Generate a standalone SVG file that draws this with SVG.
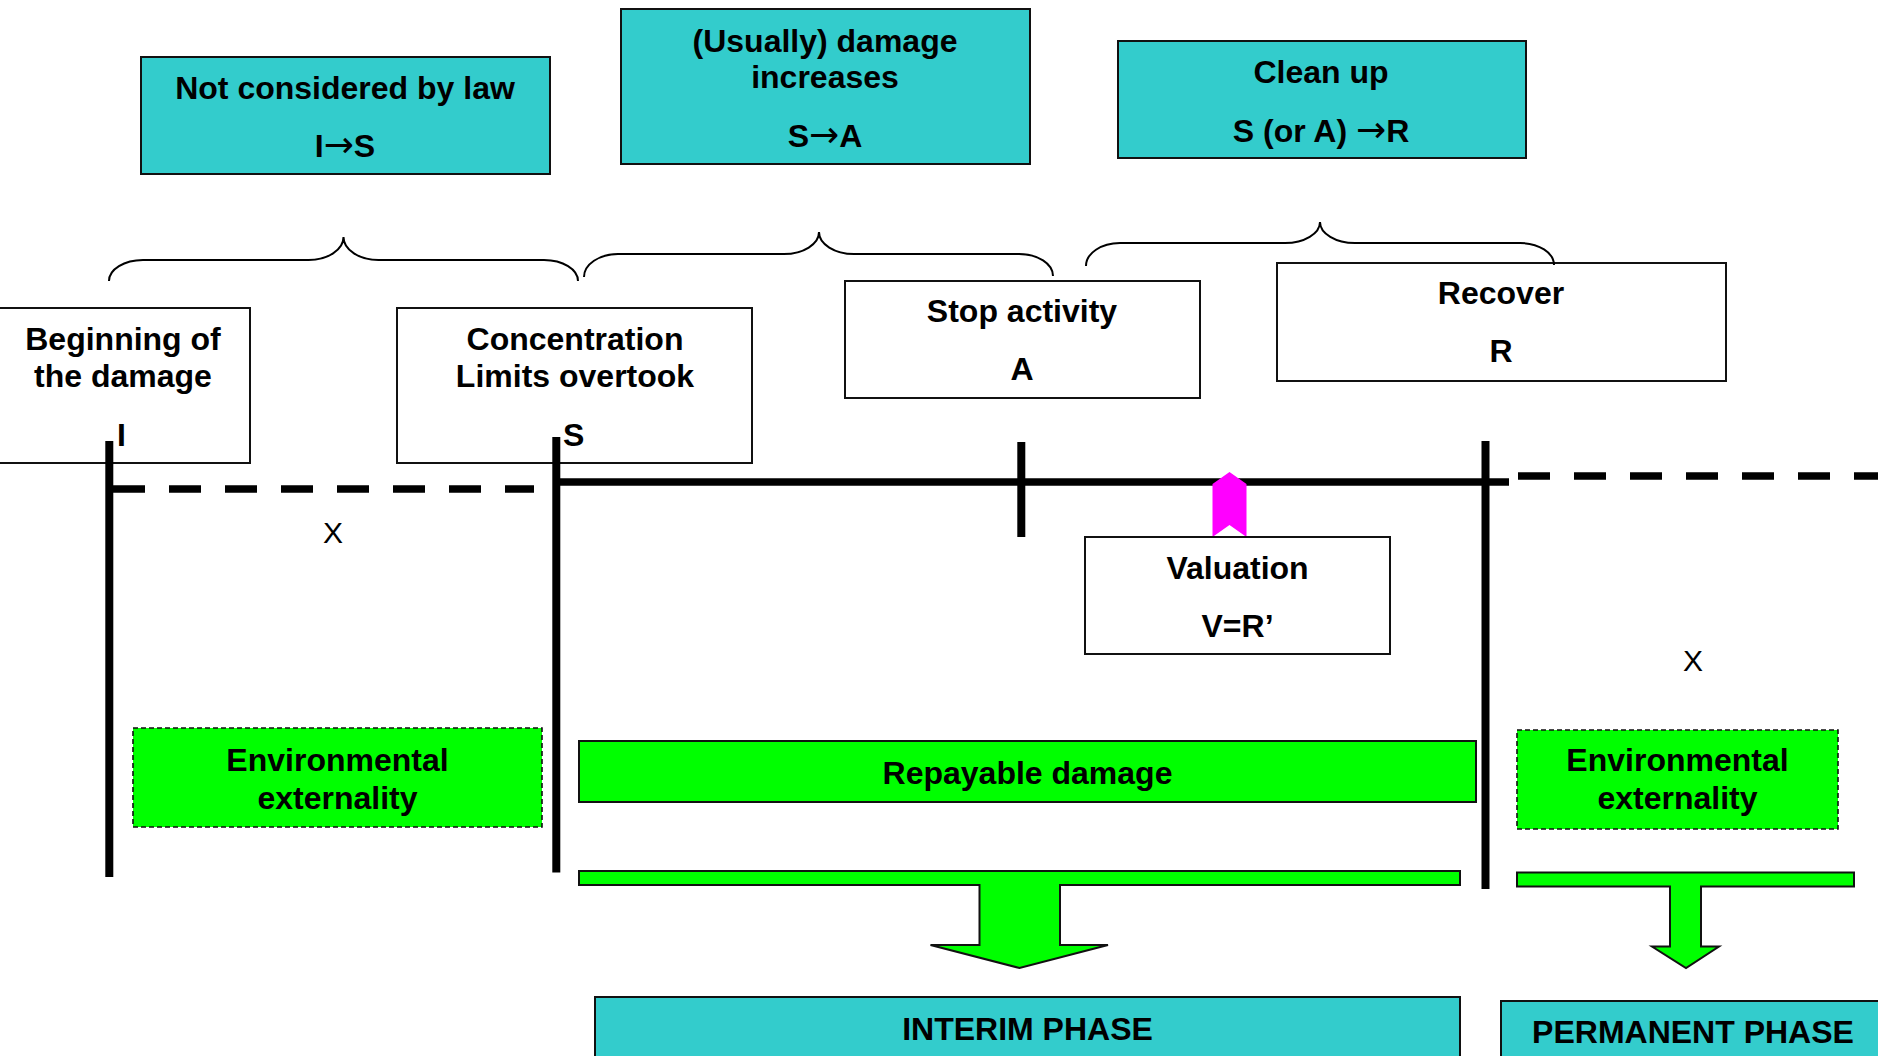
<svg xmlns="http://www.w3.org/2000/svg" width="1878" height="1056" viewBox="0 0 1878 1056">
<style>
.t{font-family:"Liberation Sans",Arial,sans-serif;font-weight:bold;font-size:32px;fill:#000;text-anchor:middle}
.ar{font-family:"DejaVu Sans",sans-serif;font-weight:normal;font-size:36px}
.x{font-family:"Liberation Sans",Arial,sans-serif;font-size:30px;fill:#000;text-anchor:middle}
.lbl{font-family:"Liberation Sans",Arial,sans-serif;font-weight:bold;font-size:32px;fill:#000}
.cyan{fill:#33CCCC;stroke:#111;stroke-width:2}
.white{fill:#fff;stroke:#111;stroke-width:2}
.green{fill:#00FF00;stroke:#111;stroke-width:2}
.gdash{fill:#00FF00;stroke:#111;stroke-width:1.6;stroke-dasharray:5 3}
.brace{fill:none;stroke:#000;stroke-width:2}
.vline{stroke:#000;stroke-width:8;fill:none}
.solid{stroke:#000;stroke-width:7.5;fill:none}
.dash{stroke:#000;stroke-width:7.5;fill:none;stroke-dasharray:32 24}
</style>
<rect width="1878" height="1056" fill="#fff"/>

<g id="box-not-considered">
<rect class="cyan" x="141" y="57" width="409" height="117"/>
<text class="t" x="345" y="99">Not considered by law</text>
<text class="t" x="345" y="157">I<tspan class="ar">→</tspan>S</text>
</g>
<g id="box-damage-increases">
<rect class="cyan" x="621" y="9" width="409" height="155"/>
<text class="t" x="825" y="52">(Usually) damage</text>
<text class="t" x="825" y="88">increases</text>
<text class="t" x="825" y="147">S<tspan class="ar">→</tspan>A</text>
</g>
<g id="box-clean-up">
<rect class="cyan" x="1118" y="41" width="408" height="117"/>
<text class="t" x="1321" y="83">Clean up</text>
<text class="t" x="1321" y="142">S (or A) <tspan class="ar">→</tspan>R</text>
</g>

<g id="box-beginning">
<rect class="white" x="-2" y="308" width="252" height="155"/>
<text class="t" x="123" y="350">Beginning of</text>
<text class="t" x="123" y="387">the damage</text>
</g>
<g id="box-concentration">
<rect class="white" x="397" y="308" width="355" height="155"/>
<text class="t" x="575" y="350">Concentration</text>
<text class="t" x="575" y="387">Limits overtook</text>
</g>
<g id="box-stop">
<rect class="white" x="845" y="281" width="355" height="117"/>
<text class="t" x="1022" y="322">Stop activity</text>
<text class="t" x="1022" y="380">A</text>
</g>
<g id="box-recover">
<rect class="white" x="1277" y="263" width="449" height="118"/>
<text class="t" x="1501" y="304">Recover</text>
<text class="t" x="1501" y="362">R</text>
</g>

<g id="braces">
<path class="brace" d="M109,281 A34,21 0 0 1 143,260 H308 A35,23 0 0 0 343.5,237 A35,23 0 0 0 379,260 H544 A34,21 0 0 1 578,281"/>
<path class="brace" d="M584,277 A34,23 0 0 1 618,254 H784 A35,22 0 0 0 819,232 A35,22 0 0 0 854,254 H1019 A34,22 0 0 1 1053,276"/>
<path class="brace" d="M1086,266 A34,23 0 0 1 1120,243 H1285 A35,21 0 0 0 1320,222 A35,21 0 0 0 1355,243 H1520 A34,22 0 0 1 1554,265"/>
</g>

<g id="timeline">
<line class="dash" x1="113" y1="489" x2="534" y2="489"/>
<line class="solid" x1="556" y1="482" x2="1509" y2="482"/>
<line class="dash" x1="1518" y1="476" x2="1878" y2="476"/>
<line class="vline" x1="109.3" y1="441" x2="109.3" y2="877"/>
<line class="vline" x1="556.3" y1="437" x2="556.3" y2="872.5"/>
<line class="vline" x1="1021.3" y1="442" x2="1021.3" y2="537"/>
<line class="vline" x1="1485.5" y1="441" x2="1485.5" y2="889"/>
<text class="lbl" x="117" y="446">I</text>
<text class="lbl" x="563" y="446">S</text>
<text class="x" x="333" y="543">X</text>
<text class="x" x="1693" y="671">X</text>
</g>

<g id="valuation-marker">
<polygon points="1212.5,484 1229.5,472 1246.5,484 1246.5,537 1229.5,525 1212.5,537" fill="#FF00FF"/>
</g>
<g id="box-valuation">
<rect class="white" x="1085" y="537" width="305" height="117"/>
<text class="t" x="1237.5" y="579">Valuation</text>
<text class="t" x="1237.5" y="637">V=R’</text>
</g>

<g id="box-env-left">
<rect class="gdash" x="133" y="728" width="409" height="99"/>
<text class="t" x="337.5" y="771">Environmental</text>
<text class="t" x="337.5" y="809">externality</text>
</g>
<g id="box-repayable">
<rect class="green" x="579" y="741" width="897" height="61"/>
<text class="t" x="1027.5" y="784">Repayable damage</text>
</g>
<g id="box-env-right">
<rect class="gdash" x="1517" y="730" width="321" height="99"/>
<text class="t" x="1677.5" y="771">Environmental</text>
<text class="t" x="1677.5" y="809">externality</text>
</g>

<g id="arrow-interim">
<path class="green" d="M579,871 H1460 V885 H1060 V945 H1108 L1019.5,968 L930.5,945 H979.5 V885 H579 Z"/>
</g>
<g id="arrow-permanent">
<path class="green" d="M1517,872.5 H1854 V886.5 H1701 V946.5 H1719 L1686,968 L1652,946.5 H1670 V886.5 H1517 Z"/>
</g>

<g id="box-interim">
<rect class="cyan" x="595" y="997" width="865" height="80"/>
<text class="t" x="1027.5" y="1040">INTERIM PHASE</text>
</g>
<g id="box-permanent">
<rect class="cyan" x="1501" y="1001" width="390" height="80"/>
<text class="t" x="1693" y="1043">PERMANENT PHASE</text>
</g>
</svg>
